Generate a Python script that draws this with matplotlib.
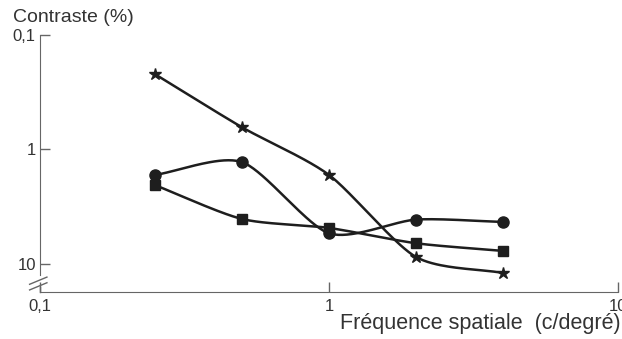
import numpy as np
import matplotlib.pyplot as plt
from matplotlib.ticker import FixedLocator, FixedFormatter, NullLocator

plt.rcParams['font.family'] = ['Liberation Sans', 'DejaVu Sans']

freq = [0.25, 0.5, 1, 2, 4]
star = [0.22, 0.64, 1.67, 8.7, 12.0]
circle = [1.67, 1.29, 5.4, 4.1, 4.3]
square = [2.05, 4.05, 4.85, 6.6, 7.7]

x_ticks = [0.1, 1, 10]
x_labels = ['0,1', '1', '10']
y_ticks = [0.1, 1, 10]
y_labels = ['0,1', '1', '10']


def smooth(xs, ys, k=0.38, n=40):
    # cardinal spline through the points, in log-log space
    px = np.log10(xs)
    py = np.log10(ys)
    t = np.linspace(0, 1, n)
    h00 = 2 * t ** 3 - 3 * t ** 2 + 1
    h10 = t ** 3 - 2 * t ** 2 + t
    h01 = -2 * t ** 3 + 3 * t ** 2
    h11 = t ** 3 - t ** 2
    ox, oy = [], []
    for p, out in ((px, ox), (py, oy)):
        m = np.zeros(len(p))
        m[1:-1] = k * (p[2:] - p[:-2])
        m[0] = 2 * k * (p[1] - p[0])
        m[-1] = 2 * k * (p[-1] - p[-2])
        for i in range(len(p) - 1):
            out.extend(h00 * p[i] + h10 * m[i] + h01 * p[i + 1] + h11 * m[i + 1])
    return 10 ** np.array(ox), 10 ** np.array(oy)


fig = plt.figure(figsize=(6.22, 3.39), dpi=100)
ax = fig.add_axes([40 / 622, 1 - 292 / 339, 578 / 622, 257 / 339])

col = '#1e1e1e'
for ys, mk, ms in ((star, '*', 9), (circle, 'o', 8), (square, 's', 7)):
    sx, sy = smooth(freq, ys)
    ax.plot(sx, sy, color=col, lw=1.8, solid_capstyle='round')
    ax.plot(freq, ys, ls='none', marker=mk, ms=ms, color=col)

ax.set_xscale('log')
ax.set_yscale('log')
ax.set_xlim(0.1, 10)
ax.set_ylim(17.6, 0.1)

ax.xaxis.set_major_locator(FixedLocator(x_ticks))
ax.xaxis.set_major_formatter(FixedFormatter(x_labels))
ax.xaxis.set_minor_locator(NullLocator())
ax.yaxis.set_major_locator(FixedLocator(y_ticks))
ax.yaxis.set_major_formatter(FixedFormatter(y_labels))
ax.yaxis.set_minor_locator(NullLocator())
ax.tick_params(direction='in', length=7, width=1, color='#666666',
               labelsize=12, labelcolor='#333333', pad=3)
ax.tick_params(axis='x', pad=5)

for s in ('top', 'right'):
    ax.spines[s].set_visible(False)
ax.spines['bottom'].set_color('#666666')
ax.spines['left'].set_color('#666666')
ax.spines['left'].set_bounds(12.5, 0.1)

# lower part of axis and break marks
ax.plot([0, 0], [0, 0.02], transform=ax.transAxes, color='#666666',
        lw=1, clip_on=False)
for dy in (0.0, 0.022):
    ax.plot([-0.018, 0.012], [0.008 + dy, 0.036 + dy], transform=ax.transAxes,
            color='#666666', lw=1, clip_on=False)

fig.text(13 / 622, 1 - 18 / 339, 'Contraste (%)', fontsize=14,
         color='#333333', va='center', ha='left')
fig.text(621 / 622, 1 - 323 / 339, 'Fréquence spatiale  (c/degré)',
         fontsize=15.5, color='#333333', va='center', ha='right')

fig.savefig('out.png', dpi=100, facecolor='white')
